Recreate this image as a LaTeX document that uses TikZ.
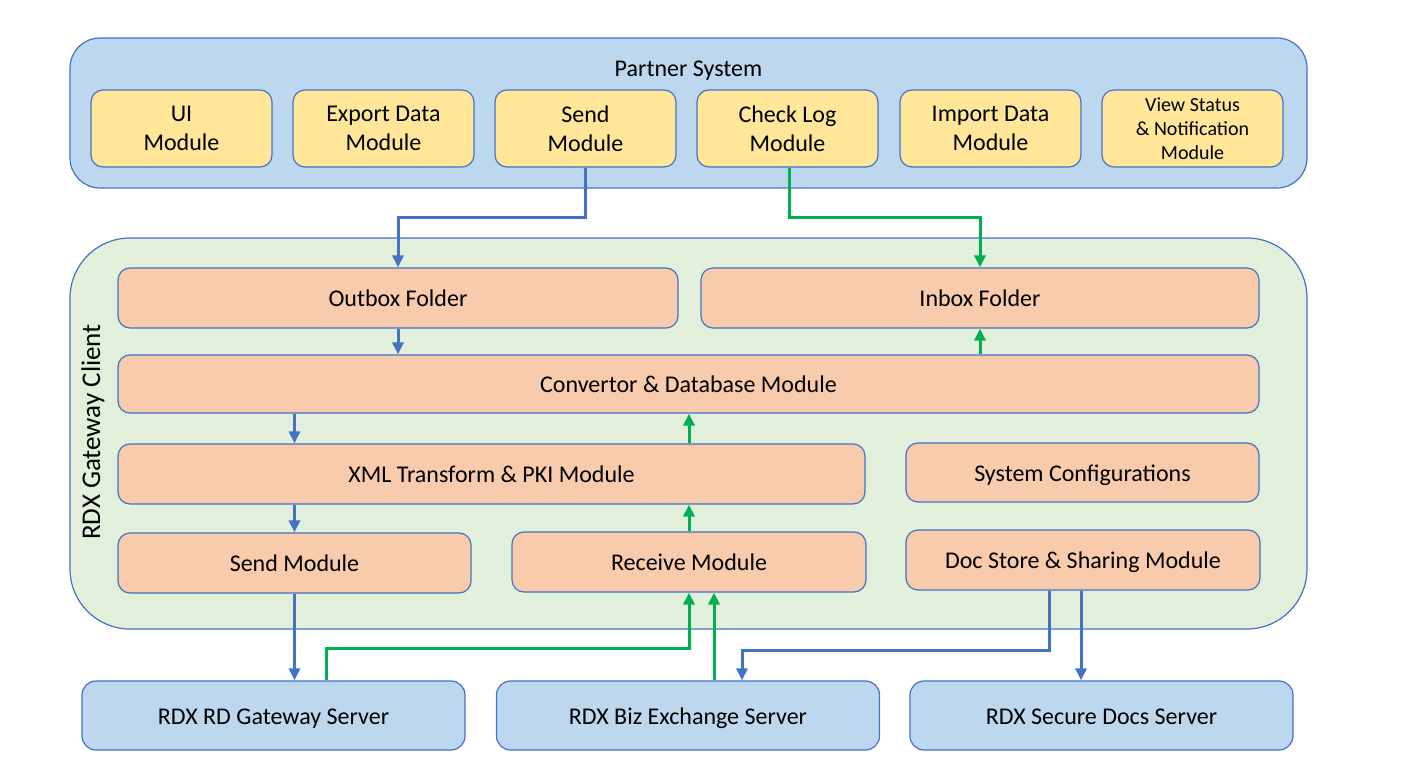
\documentclass[tikz,border=0pt]{standalone}
\usepackage{fontspec}
\setmainfont{Carlito}
\usepackage{tikz}
\usetikzlibrary{arrows.meta,calc}

\definecolor{edgeblue}{RGB}{68,114,196}
\definecolor{paleblue}{RGB}{189,215,238}
\definecolor{paleyellow}{RGB}{255,230,153}
\definecolor{palegreen}{RGB}{226,239,218}
\definecolor{salmon}{RGB}{248,203,173}
\definecolor{flowgreen}{RGB}{0,176,80}

\begin{document}
\begin{tikzpicture}[x=0.5pt,y=0.5pt,yscale=-1,
  boxsize/.style 2 args={minimum width=#1*0.5pt, minimum height=#2*0.5pt},
  oneline/.style={text height=8.85pt, text depth=0pt},
  basebox/.style={draw=edgeblue, line width=0.6pt, align=center, inner sep=0pt,
    font=\fontsize{12}{14.5}\selectfont},
  partnerbox/.style={basebox, fill=paleblue, rounded corners=15pt},
  clientbox/.style={basebox, fill=palegreen, rounded corners=30pt},
  modbox/.style={basebox, fill=paleyellow, rounded corners=6pt, boxsize={181}{77}},
  partbox/.style={basebox, oneline, fill=salmon, rounded corners=6pt},
  serverbox/.style={basebox, oneline, fill=paleblue, rounded corners=7pt, boxsize={383}{69}},
  outflow/.style={draw=edgeblue, line width=1.5pt, -{Triangle[length=6pt,width=5.5pt]}},
  inflow/.style={draw=flowgreen, line width=1.5pt, -{Triangle[length=6pt,width=5.5pt]}}]
  \useasboundingbox (0,0) rectangle (1404,780);

  % partner system
  \node[partnerbox, boxsize={1237}{150}] (partner) at (688.5,113) {};
  \node[oneline, inner sep=0pt, font=\fontsize{12}{14.5}\selectfont] (partnertitle) at (688.5,68) {Partner System};
  \node[modbox] (pui) at (181.5,128.5) {UI\\Module};
  \node[modbox] (pexport) at (383.5,128.5) {Export Data\\Module};
  \node[modbox] (psend) at (585.5,128.5) {Send\\Module};
  \node[modbox] (plog) at (787.5,128.5) {Check Log\\Module};
  \node[modbox] (pimport) at (990.5,128.5) {Import Data\\Module};
  \node[modbox, font=\fontsize{10}{12}\selectfont] (pview) at (1192.5,128.5) {View Status\\\& Notification\\Module};

  % gateway client
  \node[clientbox, boxsize={1237}{391}] (client) at (688.5,433.5) {};
  \node[rotate=90, font=\fontsize{13.5}{16}\selectfont] (clienttitle) at (93,432) {RDX Gateway Client};
  \node[partbox, boxsize={560}{60}] (outbox) at (398,298) {Outbox Folder};
  \node[partbox, boxsize={558}{60}] (inbox) at (980,298) {Inbox Folder};
  \node[partbox, boxsize={1141}{58}] (conv) at (688.5,384) {Convertor \& Database Module};
  \node[partbox, boxsize={747}{60}] (xml) at (491.5,474) {XML Transform \& PKI Module};
  \node[partbox, boxsize={353}{59}] (sysconf) at (1082.5,472.5) {System Configurations};
  \node[partbox, boxsize={353}{60}] (sendmod) at (294.5,563) {Send Module};
  \node[partbox, boxsize={354}{60}] (recv) at (689,562) {Receive Module};
  \node[partbox, boxsize={354}{60}] (docs) at (1083,560) {Doc Store \& Sharing Module};

  % servers
  \node[serverbox] (rdsrv) at (273.5,715.5) {RDX RD Gateway Server};
  \node[serverbox] (bizsrv) at (688,715.5) {RDX Biz Exchange Server};
  \node[serverbox] (secsrv) at (1101.5,715.5) {RDX Secure Docs Server};

  % outgoing flow
  \draw[outflow] (psend.south) -- ++(0,50) -| (outbox.north);
  \draw[outflow] (outbox.south) -- (outbox.south |- conv.north);
  \draw[outflow] (conv.south -| sendmod.north) -- (xml.north -| sendmod.north);
  \draw[outflow] (xml.south -| sendmod.north) -- (sendmod.north);
  \draw[outflow] (sendmod.south) -- (sendmod.south |- rdsrv.north);
  \draw[outflow] ($(docs.south)+(-34,0)$) |- ($(bizsrv.north)+(54,-30)$) -- ($(bizsrv.north)+(54,0)$);
  \draw[outflow] ($(docs.south)+(-2,0)$) -- ($(docs.south |- secsrv.north)+(-2,0)$);

  % incoming flow
  \draw[inflow] ($(plog.south)+(1.5,0)$) -- ++(0,50) -| (inbox.north);
  \draw[inflow] (conv.north -| inbox.south) -- (inbox.south);
  \draw[inflow] (xml.north -| recv.north) -- (conv.south -| recv.north);
  \draw[inflow] (recv.north) -- (xml.south -| recv.north);
  \draw[inflow] ($(rdsrv.north)+(52.5,0)$) -- ++(0,-32) -| (recv.south);
  \draw[inflow] ($(bizsrv.north)+(26,0)$) -- ($(recv.south)+(25,0)$);
\end{tikzpicture}
\end{document}
